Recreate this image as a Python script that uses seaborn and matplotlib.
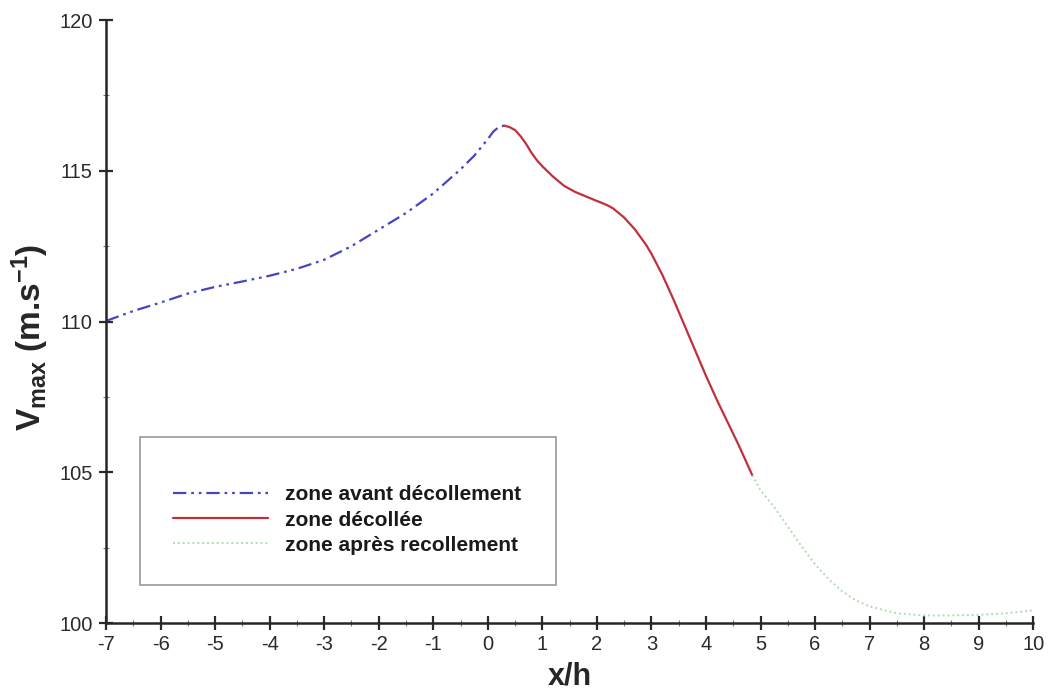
import numpy as np
import pandas as pd
import matplotlib
matplotlib.use("Agg")
import matplotlib.pyplot as plt
import seaborn as sns
from matplotlib.patches import Rectangle
from matplotlib.ticker import MultipleLocator

# values
x_avant = [-7.0, -6.5, -6.0, -5.5, -5.0, -4.5, -4.0, -3.5, -3.0, -2.5, -2.0,
           -1.5, -1.0, -0.5, -0.25, 0.0, 0.1, 0.2, 0.3]
v_avant = [110.02, 110.35, 110.63, 110.93, 111.15, 111.33, 111.52, 111.75, 112.05,
           112.5, 113.05, 113.6, 114.25, 115.05, 115.5, 116.05, 116.3, 116.45, 116.5]

x_decol = [0.3, 0.4, 0.5, 0.6, 0.7, 0.8, 0.9, 1.0, 1.2, 1.4, 1.6, 1.8, 2.0,
           2.1, 2.2, 2.3, 2.4, 2.5, 2.6, 2.7, 2.8, 2.9, 3.0, 3.2, 3.4, 3.6,
           3.8, 4.0, 4.2, 4.4, 4.6, 4.85]
v_decol = [116.5, 116.45, 116.35, 116.15, 115.9, 115.6, 115.35, 115.15, 114.8,
           114.5, 114.3, 114.15, 114.0, 113.93, 113.85, 113.75, 113.6, 113.45,
           113.25, 113.05, 112.8, 112.55, 112.25, 111.55, 110.75, 109.9, 109.05,
           108.2, 107.4, 106.65, 105.9, 104.9]

x_apres = [4.85, 5.0, 5.25, 5.5, 5.75, 6.0, 6.25, 6.5, 6.75, 7.0, 7.5, 8.0,
           8.5, 9.0, 9.5, 10.0]
v_apres = [104.9, 104.4, 103.85, 103.2, 102.55, 101.95, 101.45, 101.05, 100.75,
           100.55, 100.32, 100.25, 100.25, 100.27, 100.32, 100.42]

labels = ["zone avant décollement", "zone décollée", "zone après recollement"]

sns.set_style("ticks")
plt.rcParams["font.family"] = ["Liberation Sans", "DejaVu Sans"]
plt.rcParams["axes.unicode_minus"] = False
plt.rcParams["mathtext.fontset"] = "custom"
plt.rcParams["mathtext.rm"] = "Liberation Sans:bold"
plt.rcParams["mathtext.bf"] = "Liberation Sans:bold"
plt.rcParams["mathtext.it"] = "Liberation Sans:bold"
plt.rcParams["mathtext.default"] = "bf"

fig = plt.figure(figsize=(10.5, 6.93), dpi=100)
ax = fig.add_axes([0.101, 0.101, 0.883, 0.870])

df1 = pd.DataFrame({"x": x_avant, "v": v_avant})
df2 = pd.DataFrame({"x": x_decol, "v": v_decol})
df3 = pd.DataFrame({"x": x_apres, "v": v_apres})

sns.lineplot(data=df1, x="x", y="v", ax=ax, color="#4545c4", lw=1.6,
             linestyle=(0, (6, 2.2, 1.2, 2.2, 1.2, 2.2)), label=labels[0], sort=False)
sns.lineplot(data=df2, x="x", y="v", ax=ax, color="#c0303c", lw=1.6,
             label=labels[1], sort=False)
sns.lineplot(data=df3, x="x", y="v", ax=ax, color="#b0dcb0", lw=1.4,
             linestyle=(0, (1, 1.5)), label=labels[2], sort=False)

ax.set_xlim(-7, 10)
ax.set_ylim(100, 120)
ax.xaxis.set_major_locator(MultipleLocator(1))
ax.xaxis.set_minor_locator(MultipleLocator(0.5))
ax.yaxis.set_major_locator(MultipleLocator(5))
ax.yaxis.set_minor_locator(MultipleLocator(2.5))
sns.despine(ax=ax)
for s in ["left", "bottom"]:
    ax.spines[s].set_linewidth(1.8)
ax.tick_params(which="major", direction="inout", length=9.5, width=1.6,
               labelsize=14.5, pad=4, colors="#2a2a2a")
ax.tick_params(which="minor", direction="inout", length=5, width=0.8, color="#777777")
ax.tick_params(axis="y", which="major", pad=5)

ax.set_xlabel("x/h", fontsize=22, fontweight="bold", labelpad=5)
ax.set_ylabel(r"V$_{max}$ (m.s$^{-1}$)", fontsize=24, fontweight="bold")
ax.yaxis.set_label_coords(-0.059, 0.474)

ax.add_patch(Rectangle((140 / 1050, 1 - 585 / 693), 416 / 1050, 148 / 693,
                       transform=fig.transFigure, fill=False, edgecolor="#9a9a9a",
                       lw=1.2, zorder=5))
leg = ax.legend(loc="upper left", bbox_to_anchor=(167 / 1050, 1 - 479 / 693),
                bbox_transform=fig.transFigure, frameon=False,
                prop={"size": 15, "weight": "bold"},
                handlelength=4.55, handletextpad=0.8, labelspacing=0.3,
                borderaxespad=0, borderpad=0.3)
for t in leg.get_texts():
    t.set_color("#1a1a1a")

fig.savefig("out.png", dpi=100)
